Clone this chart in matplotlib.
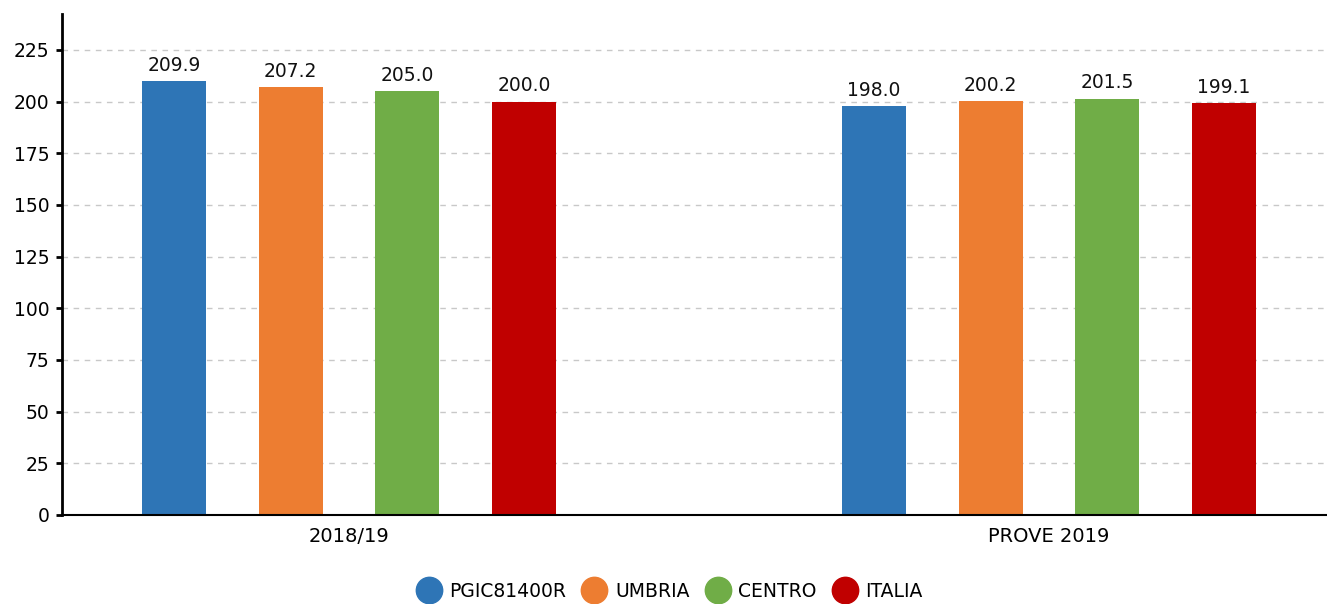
import matplotlib.pyplot as plt
import numpy as np
from matplotlib.lines import Line2D

# Data
categories = ["2018/19", "PROVE 2019"]
series = ["PGIC81400R", "UMBRIA", "CENTRO", "ITALIA"]
values = [
    [209.9, 198.0],
    [207.2, 200.2],
    [205.0, 201.5],
    [200.0, 199.1],
]
colors = ["#2e75b6", "#ed7d31", "#70ad47", "#c00000"]

fig = plt.figure(figsize=(13.27, 6.04), dpi=100)
ax = fig.add_axes([62 / 1327, 89 / 604, 1265 / 1327, 501 / 604])

x = np.arange(len(categories))
width = 0.0914
step = 0.1667
for i, (name, vals) in enumerate(zip(series, values)):
    pos = x + (i - 1.5) * step
    bars = ax.bar(pos, vals, width, color=colors[i], label=name, zorder=3)
    for b, v in zip(bars, vals):
        ax.text(b.get_x() + b.get_width() / 2, v + 3, f"{v:.1f}",
                ha="center", va="bottom", fontsize=13.5, color="#111111")

ax.set_xlim(-0.41, 1.397)
ax.set_ylim(0, 242.4)
ax.set_yticks(np.arange(0, 226, 25))
ax.set_xticks(x)
ax.set_xticklabels(categories)
ax.tick_params(axis="x", length=0, pad=9, labelsize=14)
ax.tick_params(axis="y", length=4, width=2, labelsize=13.5, pad=5)
ax.yaxis.grid(True, linestyle=(0, (4, 4)), color="#c8c8c8", linewidth=1, zorder=0)

for s in ["top", "right"]:
    ax.spines[s].set_visible(False)
ax.spines["left"].set_linewidth(2)
ax.spines["bottom"].set_linewidth(1.5)
ax.spines["bottom"].set_zorder(4)

# circle markers for legend
handles = [Line2D([0], [0], marker="o", linestyle="", markersize=19,
                  markerfacecolor=c, markeredgecolor=c) for c in colors]
ax.legend(handles, series, loc="center", bbox_to_anchor=((671 - 62) / 1265, -0.152),
          ncol=4, frameon=False, fontsize=13.5, handlelength=1.0,
          handletextpad=0.6, columnspacing=1.0)

fig.savefig("out.png", dpi=100)
